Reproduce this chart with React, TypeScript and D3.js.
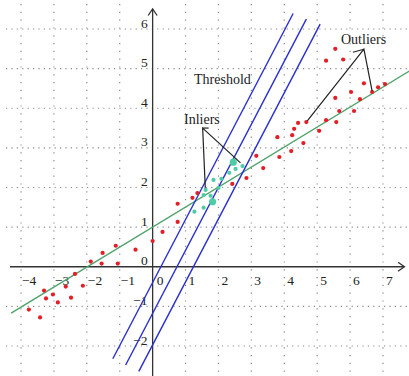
import React from "react";
import * as d3 from "d3";

// axis ticks
const xTicks = [-4, -3, -2, -1, 0, 1, 2, 3, 4, 5, 6, 7];
const yTicks = [-2, -1, 0, 1, 2, 3, 4, 5, 6];
const xGrid = [-4, -3, -2, -1, 1, 2, 3, 4, 5, 6, 7];
const yGrid = [-3, -2, -1, 1, 2, 3, 4, 5, 6];

// outliers (red)
const outlierX = [
  -3.76, -3.42, -3.3, -3.24, -3.03, -2.88, -2.64, -2.48, -2.36, -2.12, -1.88, -1.55,
  -1.52, -1.12, -1.06, -0.52, 0, 0.3, 0.76, 0.76, 1.21, 1.36, 2.42, 2.85, 3.15, 3.36,
  3.79, 3.85, 4.21, 4.24, 4.3, 4.42, 4.67, 4.58, 5.06, 5.27, 5.58, 5.67, 6.12, 5.55,
  6.3, 6.03, 6.67, 6.85, 7.06, 6.42, 5.27, 5.79, 5.55,
];
const outlierY = [
  -1.08, -1.28, -0.6, -0.8, -0.7, -0.9, -0.5, -0.78, -0.18, -0.48, 0.13, 0.08,
  0.35, 0.53, 0.08, 0.43, 0.65, 0.88, 1.13, 1.59, 1.74, 1.86, 2.09, 2.24, 2.8, 2.49,
  3.27, 2.77, 2.92, 3.32, 3.48, 3.63, 3.65, 3.12, 3.43, 3.7, 3.65, 3.93, 3.93, 4.26,
  4.23, 4.41, 4.41, 4.53, 4.61, 4.63, 5.2, 5.23, 5.5,
];

// inliers (teal)
const inlierX = [2.45, 2.73, 2.52, 2.33, 2.09, 1.85, 2.0, 1.61, 1.76, 1.55, 1.82, 1.55, 1.27];
const inlierY = [2.64, 2.54, 2.47, 2.37, 2.22, 2.19, 1.99, 1.94, 1.79, 1.81, 1.64, 1.49, 1.39];
const inlierBig = [true, false, false, false, false, false, false, false, false, false, true, false, false];

// fitted line y = a*x + b
const fitSlope = 0.505;
const fitIntercept = 1.0;
const fitRange = [-4.3, 7.9];

// threshold band: y = slope * (x - offset)
const bandSlope = 1.59;
const bandOffsets = [0.25, 0.74, 1.24];
const bandStart = [-1.21, -0.82, -0.42];
const bandEnd = [4.27, 4.67, 5.09];

const W = 409;
const H = 376;

const fmt = (v: number) => (v < 0 ? "\u2212" + Math.abs(v) : String(v));

export default function App() {
  const x = d3.scaleLinear().domain([-4, 7]).range([21, 383]);
  const y = d3.scaleLinear().domain([-2, 6]).range([346, 29]);
  const x0 = x(0);
  const y0 = y(0);

  const line = d3
    .line<[number, number]>()
    .x((d) => x(d[0]))
    .y((d) => y(d[1]));

  const fitPts: [number, number][] = fitRange.map((v) => [v, fitSlope * v + fitIntercept]);

  const ink = "#222";
  const font = "'Liberation Serif', 'DejaVu Serif', serif";

  // annotation anchors (data coords)
  const inJ: [number, number] = [1.52, 3.5];
  const outJ: [number, number] = [6.42, 5.49];

  return (
    <svg
      width={W}
      height={H}
      style={{ position: "absolute", left: 0, top: 0, background: "#fff" }}
      fontFamily={font}
    >
      {/* grid */}
      <g stroke="#8a8a8a" strokeWidth={1.2}>
        {xGrid.map((t) => (
          <line key={"gx" + t} x1={x(t)} x2={x(t)} y1={4} y2={H} strokeDasharray="1.2,6.6" />
        ))}
        {yGrid.map((t) => (
          <line key={"gy" + t} x1={6} x2={W} y1={y(t)} y2={y(t)} strokeDasharray="1.2,4.2" />
        ))}
      </g>

      {/* axes */}
      <g stroke="#333" strokeWidth={1.3} fill="none">
        <line x1={10} x2={404} y1={y0} y2={y0} />
        <path d={`M${398},${y0 - 4.5}L${404.5},${y0}L${398},${y0 + 4.5}`} />
        <line x1={x0} x2={x0} y1={H} y2={9} />
        <path d={`M${x0 - 4.5},${15.5}L${x0},${9}L${x0 + 4.5},${15.5}`} />
      </g>

      {/* tick labels */}
      <g fontSize={13.5} fill={ink}>
        {xTicks.map((t) => (
          <text key={"tx" + t} x={x(t) + (t < 0 ? 1 : t === 0 ? 4 : 3)} y={y0 + 18} textAnchor="start">
            {fmt(t)}
          </text>
        ))}
        {yTicks.map((t) => (
          <text key={"ty" + t} x={x0 - 5} y={y(t) - 1.5} textAnchor="end">
            {fmt(t)}
          </text>
        ))}
      </g>

      {/* fitted line */}
      <path d={line(fitPts) || ""} stroke="#4fa36b" strokeWidth={1.4} fill="none" />

      {/* threshold band */}
      <g stroke="#2a2fd0" strokeWidth={1.4} fill="none">
        {bandOffsets.map((o, i) => {
          const pts: [number, number][] = [bandStart[i], bandEnd[i]].map((v) => [v, bandSlope * (v - o)]);
          return <path key={"b" + i} d={line(pts) || ""} />;
        })}
      </g>

      {/* outliers */}
      <g fill="#e41e26">
        {outlierX.map((v, i) => (
          <circle key={"o" + i} cx={x(v)} cy={y(outlierY[i])} r={2.1} />
        ))}
      </g>

      {/* inliers */}
      <g fill="#4fcca6">
        {inlierX.map((v, i) => (
          <circle key={"i" + i} cx={x(v)} cy={y(inlierY[i])} r={inlierBig[i] ? 3.6 : 2.1} />
        ))}
      </g>

      {/* annotations */}
      <g stroke={ink} strokeWidth={1.2} fill="none">
        <path d={line([[1.6, 1.99], inJ, [2.67, 2.62]]) || ""} />
        <line x1={x(inJ[0])} y1={y(inJ[1])} x2={x(inJ[0]) + 6} y2={y(inJ[1])} />
        <path d={line([[4.7, 3.68], outJ, [6.67, 4.43]]) || ""} />
        <line x1={x(outJ[0])} y1={y(outJ[1])} x2={x(outJ[0]) - 11} y2={y(outJ[1]) + 3} />
      </g>
      <g fontSize={14} fill={ink}>
        <text x={194} y={84}>Threshold</text>
        <text x={184} y={124}>Inliers</text>
        <text x={341} y={44}>Outliers</text>
      </g>
    </svg>
  );
}
